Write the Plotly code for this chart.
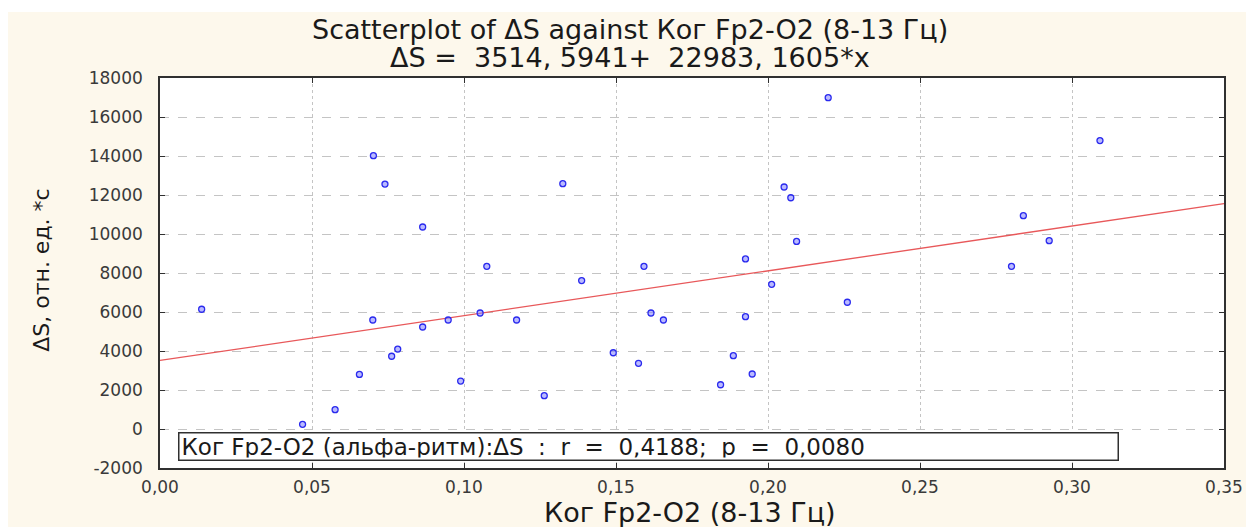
import plotly.graph_objects as go

# Data
kor = [0.0702, 0.0740, 0.0864, 0.0137, 0.1075, 0.0700, 0.0864, 0.0948, 0.1053,
       0.1173, 0.0782, 0.0762, 0.0656, 0.0989, 0.0576, 0.0469, 0.2198, 0.1325,
       0.2053, 0.2075, 0.2094, 0.1926, 0.1592, 0.1387, 0.2012, 0.2261, 0.1615,
       0.1656, 0.1926, 0.1491, 0.1574, 0.1886, 0.1948, 0.1844, 0.1264, 0.3092,
       0.2840, 0.2925, 0.2801]
delta_s = [14015, 12560, 10360, 6140, 8340, 5590, 5230, 5590, 5950,
           5590, 4100, 3730, 2800, 2460, 990, 240, 16990, 12580,
           12410, 11860, 9620, 8720, 8340, 7610, 7420, 6500, 5950,
           5590, 5760, 3910, 3370, 3760, 2820, 2270, 1710, 14790,
           10940, 9660, 8340]

intercept = 3514.5941
slope = 22983.1605
fit_x = [0.0, 0.35]
fit_y = [intercept + slope * v for v in fit_x]

x_tickvals = [0.00, 0.05, 0.10, 0.15, 0.20, 0.25, 0.30, 0.35]
x_ticktext = ["0,00", "0,05", "0,10", "0,15", "0,20", "0,25", "0,30", "0,35"]
y_tickvals = [-2000, 0, 2000, 4000, 6000, 8000, 10000, 12000, 14000, 16000, 18000]
y_ticktext = ["-2000", "0", "2000", "4000", "6000", "8000", "10000", "12000",
              "14000", "16000", "18000"]

title_line1 = "Scatterplot of ΔS against Ког Fp2-O2 (8-13 Гц)"
title_line2 = "ΔS = &nbsp;3514, 5941+ &nbsp;22983, 1605*x"
x_title = "Ког Fp2-O2 (8-13 Гц)"
y_title = "ΔS, отн. ед. *с"
stats_text = ("Ког Fp2-O2 (альфа-ритм):ΔS &nbsp;: &nbsp;r &nbsp;= &nbsp;0,4188; "
              "&nbsp;p &nbsp;= &nbsp;0,0080")

FONT = "DejaVu Sans, sans-serif"
CREAM = "#fdf8ec"

fig = go.Figure()
fig.add_trace(go.Scatter(
    x=fit_x, y=fit_y, mode="lines",
    line=dict(color="#e8585a", width=1.3), showlegend=False, hoverinfo="skip"))
fig.add_trace(go.Scatter(
    x=kor, y=delta_s, mode="markers",
    marker=dict(symbol="circle", size=6, color="rgba(130,130,255,0.55)",
                line=dict(color="#2a2aee", width=1.3)),
    showlegend=False))

axis_common = dict(
    showline=True, linecolor="#303030", linewidth=1.6, mirror="ticks",
    ticks="inside", ticklen=5, tickcolor="#303030", tickwidth=1,
    zeroline=False, gridcolor="#c4c4c4", gridwidth=1,
    tickfont=dict(family=FONT, size=17, color="#3a3a3a"))

fig.update_xaxes(range=[0, 0.35], tickvals=x_tickvals, ticktext=x_ticktext,
                 griddash="dot", ticklabelstandoff=3, **axis_common)
fig.update_yaxes(range=[-2000, 18000], tickvals=y_tickvals, ticktext=y_ticktext,
                 griddash="dash", ticklabelstandoff=12, **axis_common)

# plot-area pixel geometry on the page: x 160..1224, y 78..468
fig.add_shape(type="rect", xref="paper", yref="paper", layer="below",
              x0=-0.1429, x1=1.0207, y0=-0.151, y1=1.169,
              fillcolor=CREAM, line=dict(width=0))
fig.add_shape(type="rect", xref="paper", yref="paper", layer="below",
              x0=0, x1=1, y0=0, y1=1, fillcolor="white", line=dict(width=0))

# titles
fig.add_annotation(xref="paper", yref="paper", x=0.4417, y=1.125,
                   xanchor="center", yanchor="middle", text=title_line1,
                   showarrow=False, font=dict(family=FONT, size=27, color="#1a1a1a"))
fig.add_annotation(xref="paper", yref="paper", x=0.4417, y=1.052,
                   xanchor="center", yanchor="middle", text=title_line2,
                   showarrow=False, font=dict(family=FONT, size=27, color="#1a1a1a"))
fig.add_annotation(xref="paper", yref="paper", x=0.498, y=-0.115,
                   xanchor="center", yanchor="middle", text=x_title,
                   showarrow=False, font=dict(family=FONT, size=27, color="#1a1a1a"))
fig.add_annotation(xref="paper", yref="paper", x=-0.111, y=0.508,
                   xanchor="center", yanchor="middle", text=y_title, textangle=-90,
                   showarrow=False, font=dict(family=FONT, size=22, color="#1a1a1a"))

fig.add_annotation(xref="paper", yref="paper", x=0.017, y=0.054,
                   xanchor="left", yanchor="middle", text=stats_text,
                   showarrow=False, align="left", width=934, height=22,
                   bordercolor="#303030", borderwidth=1.5, borderpad=2,
                   bgcolor="white",
                   font=dict(family=FONT, size=23, color="#1a1a1a"))

fig.update_layout(
    width=1251, height=519,
    margin=dict(l=152, r=35, t=70, b=59),
    paper_bgcolor="white", plot_bgcolor="white",
)

fig.write_html("out.html")
